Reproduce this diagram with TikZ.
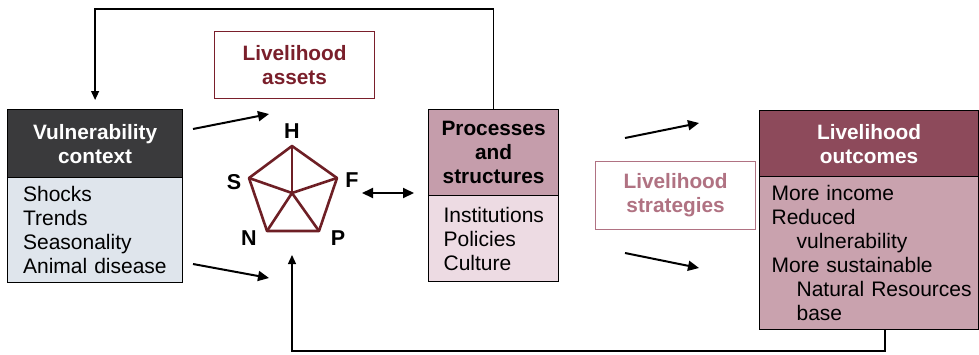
\documentclass[tikz,border=0pt]{standalone}
\usepackage{fontspec}
\setmainfont{Liberation Sans}
\usetikzlibrary{arrows.meta,calc}

\definecolor{vulhead}{HTML}{3A3A3C}
\definecolor{vulbody}{HTML}{DFE5EC}
\definecolor{prohead}{HTML}{C59DAB}
\definecolor{probody}{HTML}{EDDBE3}
\definecolor{outhead}{HTML}{8D4A5B}
\definecolor{outbody}{HTML}{C9A2AE}
\definecolor{assetred}{HTML}{7A1F2B}
\definecolor{stratred}{HTML}{B07282}
\definecolor{pentared}{HTML}{6E1F25}

\tikzset{
  hdr/.style={font=\fontsize{20.8}{24}\selectfont\bfseries, draw=black, line width=1.2pt,
    align=center, anchor=north west, inner sep=0pt},
  bodybox/.style={font=\fontsize{21}{24}\selectfont, draw=black, line width=1.2pt, align=left,
    anchor=north west, inner xsep=16pt, inner ysep=0pt},
  labelbox/.style={font=\fontsize{20.8}{24}\selectfont\bfseries, line width=1.2pt, align=center,
    anchor=north west, inner sep=0pt},
  pentlbl/.style={font=\fontsize{21.5}{24}\selectfont\bfseries, inner sep=0pt},
  bigarrow/.style={line width=2pt, -{Triangle[length=11pt,width=10pt]}},
  fbline/.style={line width=1.3pt, -{Triangle[length=9pt,width=8pt]}},
  pentaline/.style={draw=pentared, line width=2.6pt, line join=round},
}

\begin{document}
\begin{tikzpicture}[x=1pt,y=-1pt]
\useasboundingbox[fill=white] (0,0) rectangle (979,354);

% Vulnerability context
\node[hdr, fill=vulhead, text=white, minimum width=175pt, minimum height=68pt] (vh) at (7,109)
  {Vulnerability\\context};
\node[bodybox, fill=vulbody, text width=144pt, inner xsep=15.5pt, minimum height=105pt] (vb) at (7,177)
  {Shocks\\Trends\\Seasonality\\Animal disease};

% Processes and structures
\node[hdr, fill=prohead, text=black, minimum width=130pt, minimum height=86pt] (ph) at (428,109)
  {Processes\\and\\structures};
\node[bodybox, fill=probody, text width=100pt, inner xsep=15pt, minimum height=86pt] (pb) at (428,195)
  {Institutions\\Policies\\Culture};

% Livelihood outcomes
\node[hdr, fill=outhead, text=white, minimum width=219pt, minimum height=66pt] (oh) at (759,110)
  {Livelihood\\outcomes};
\node[bodybox, fill=outbody, text width=195pt, inner xsep=12pt, minimum height=153pt] (ob) at (759,176)
  {\mbox{More income}\\\mbox{Reduced}\\\hspace*{25pt}\mbox{vulnerability}\\\mbox{More sustainable}\\
   \hspace*{25pt}\mbox{Natural Resources}\\\hspace*{25pt}\mbox{base}};

% Livelihood assets / strategies labels
\node[labelbox, draw=assetred, text=assetred, minimum width=160pt, minimum height=67pt] (assets) at (214,31)
  {Livelihood\\assets};
\node[labelbox, draw=stratred, text=stratred, minimum width=160pt, minimum height=68pt] (strat) at (595,161)
  {Livelihood\\strategies};

% Asset pentagon
\coordinate (pH) at (292,146);
\coordinate (pF) at (337,178);
\coordinate (pP) at (319,231);
\coordinate (pN) at (267,231);
\coordinate (pS) at (249,178);
\coordinate (pC) at (292,193);
\draw[pentaline] (pH) -- (pF) -- (pP) -- (pN) -- (pS) -- cycle;
\foreach \v in {pH,pF,pP,pN,pS} \draw[pentaline] (pC) -- (\v);
\node[pentlbl] (lH) at (292,131) {H};
\node[pentlbl] (lS) at (234,182) {S};
\node[pentlbl] (lF) at (352,180) {F};
\node[pentlbl] (lN) at (249,238) {N};
\node[pentlbl] (lP) at (338,238) {P};

% Short arrows
\coordinate (a1s) at (193,129); \coordinate (a1e) at (269,114);
\coordinate (a2s) at (193,264); \coordinate (a2e) at (269,278);
\coordinate (a3s) at (625,138); \coordinate (a3e) at (699,123);
\coordinate (a4s) at (625,253); \coordinate (a4e) at (699,268);
\coordinate (dAs) at (362,193); \coordinate (dAe) at (414,193);
\draw[bigarrow] (a1s) -- (a1e);
\draw[bigarrow] (a2s) -- (a2e);
\draw[bigarrow] (a3s) -- (a3e);
\draw[bigarrow] (a4s) -- (a4e);
\draw[line width=2pt, {Triangle[length=11pt,width=10pt]}-{Triangle[length=11pt,width=10pt]}] (dAs) -- (dAe);

% Feedback loops
\coordinate (topy) at (0,9);
\draw[fbline, shorten >=9pt] (ph.north) -- (ph.north |- topy) -- (vh.north |- topy) -- (vh.north);
\coordinate (outdrop) at ($(ob.south west)+(126,0)$);
\coordinate (boty) at (0,351);
\coordinate (uptip) at (292,255);
\draw[fbline] (outdrop) -- (outdrop |- boty) -- (uptip |- boty) -- (uptip);
\end{tikzpicture}
\end{document}
